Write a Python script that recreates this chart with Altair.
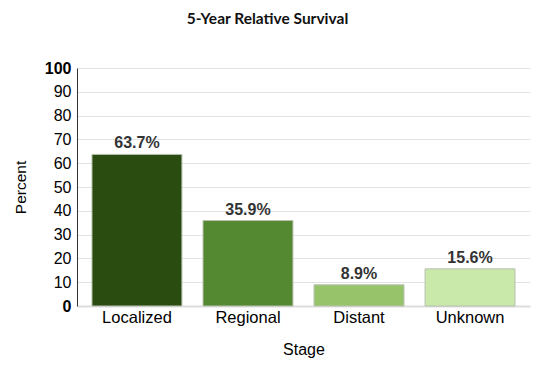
import altair as alt
import pandas as pd

stages = ["Localized", "Regional", "Distant", "Unknown"]
survival = [63.7, 35.9, 8.9, 15.6]
colors = ["#2a4c10", "#548831", "#97c46b", "#c8e9aa"]
y_ticks = [0, 10, 20, 30, 40, 50, 60, 70, 80, 90, 100]

df = pd.DataFrame({"Stage": stages, "Percent": survival, "Color": colors})
df["Label"] = [f"{v:.1f}%" for v in survival]

x = alt.X("Stage:N", sort=stages, title="Stage",
          scale=alt.Scale(paddingInner=0.19, paddingOuter=0.135),
          axis=alt.Axis(labelAngle=0, labelFont="Liberation Sans", labelFontSize=16.5,
                        labelColor="#000", ticks=False, domainColor="#dddddd",
                        domainWidth=2, labelPadding=3, titleFont="Liberation Sans",
                        titleFontSize=16, titleFontWeight="normal", titleColor="#000",
                        titlePadding=16))
y = alt.Y("Percent:Q", title="Percent",
          scale=alt.Scale(domain=[0, 100], nice=False),
          axis=alt.Axis(values=y_ticks, tickCount=11, labelOverlap=False,
                        labelFont="Liberation Sans",
                        labelFontSize=16, labelColor="#000",
                        labelFontWeight=alt.expr("datum.value == 0 || datum.value == 100 ? 'bold' : 'normal'"),
                        ticks=False, domainColor="#333333", domainWidth=1,
                        gridColor="#e3e3e3", gridWidth=1, labelPadding=6,
                        titleFont="Liberation Sans", titleFontSize=15.5,
                        titleFontWeight="normal", titleColor="#000", titlePadding=16))

bars = alt.Chart(df).mark_bar(stroke="#b8c0b0", strokeWidth=1).encode(
    x=x, y=y,
    color=alt.Color("Stage:N", sort=stages,
                    scale=alt.Scale(domain=stages, range=colors), legend=None),
)
labels = alt.Chart(df).mark_text(dy=-11, font="Liberation Sans", fontSize=16,
                                 fontWeight="bold", color="#333333").encode(
    x=x, y=y, text="Label:N")

chart = (bars + labels).properties(
    width=453, height=238,
    title=alt.TitleParams("5-Year Relative Survival", font="Lato", fontSize=15.5,
                          fontWeight="bold", color="#111", anchor="middle",
                          offset=33, dx=-36),
    autosize=alt.AutoSizeParams(type="none"),
    padding={"left": 69, "top": 60, "right": 17, "bottom": 52},
).configure_view(stroke=None)

chart.save("out.html", embed_options={"renderer": "svg", "actions": False})
